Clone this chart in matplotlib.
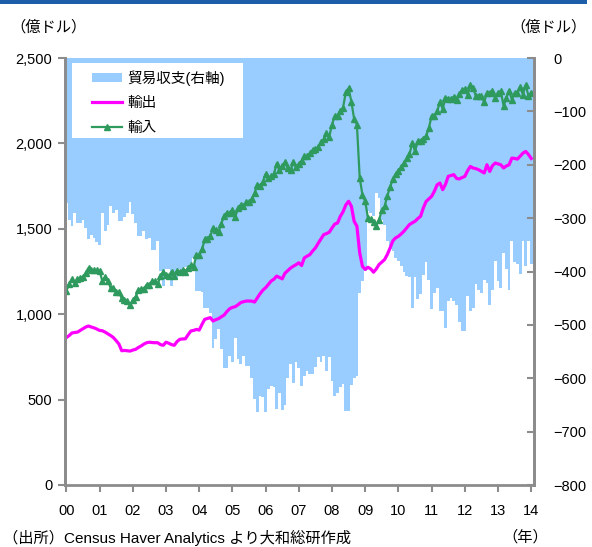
import matplotlib
matplotlib.use("Agg")
import matplotlib.pyplot as plt
from matplotlib.patches import Patch, Rectangle
from matplotlib.lines import Line2D

plt.rcParams['font.family'] = ['Liberation Sans', 'Noto Sans CJK JP', 'DejaVu Sans']

# monthly, Jan 2000 .. Jan 2014 (億ドル)
year_labels = ['00', '01', '02', '03', '04', '05', '06', '07',
               '08', '09', '10', '11', '12', '13', '14']

exports = [
    863, 875, 890, 893, 895, 905, 915, 925, 931, 925,
    920, 913, 905, 903, 895, 885, 875, 863, 845, 825,
    786, 788, 786, 784, 790, 794, 805, 814, 825, 833,
    836, 834, 833, 833, 822, 818, 836, 830, 822, 818,
    840, 853, 855, 856, 880, 902, 905, 911, 907, 940,
    970, 975, 980, 960, 968, 974, 985, 995, 1015, 1032,
    1040, 1044, 1055, 1068, 1073, 1077, 1077, 1077, 1071, 1095,
    1120, 1140, 1155, 1175, 1194, 1205, 1223, 1215, 1207, 1240,
    1255, 1270, 1281, 1290, 1301, 1285, 1330, 1340, 1349, 1370,
    1388, 1415, 1440, 1466, 1472, 1480, 1505, 1528, 1534, 1573,
    1600, 1640, 1661, 1632, 1544, 1515, 1360, 1280, 1262, 1275,
    1265, 1246, 1265, 1291, 1305, 1320, 1350, 1388, 1430, 1447,
    1456, 1470, 1486, 1505, 1525, 1535, 1544, 1560, 1573, 1622,
    1660, 1675, 1690, 1720, 1758, 1768, 1729, 1760, 1807, 1812,
    1817, 1795, 1792, 1800, 1807, 1840, 1865, 1856, 1852, 1846,
    1836, 1827, 1875, 1836, 1870, 1885, 1880, 1875, 1856, 1868,
    1875, 1914, 1912, 1908, 1925, 1943, 1953, 1935, 1912,
]

imports = [
    1135, 1178, 1205, 1183, 1204, 1214, 1218, 1243, 1271, 1256,
    1257, 1258, 1255, 1193, 1220, 1197, 1153, 1153, 1129, 1131,
    1092, 1085, 1076, 1053, 1083, 1103, 1139, 1148, 1150, 1173,
    1173, 1193, 1192, 1176, 1221, 1245, 1232, 1226, 1249, 1226,
    1255, 1249, 1257, 1248, 1272, 1286, 1279, 1348, 1344, 1379,
    1438, 1443, 1457, 1503, 1495, 1482, 1531, 1575, 1595, 1590,
    1610, 1568, 1619, 1641, 1631, 1654, 1654, 1677, 1710, 1759,
    1753, 1776, 1819, 1796, 1808, 1822, 1881, 1842, 1867, 1890,
    1855, 1843, 1889, 1860, 1881, 1899, 1925, 1926, 1941, 1962,
    1966, 1976, 2010, 2024, 2058, 2040, 2110, 2161, 2161, 2190,
    2210, 2301, 2322, 2244, 2143, 2110, 1800, 1698, 1661, 1562,
    1555, 1542, 1518, 1553, 1608, 1632, 1693, 1745, 1792, 1821,
    1836, 1860, 1886, 1913, 1936, 2003, 1955, 2012, 2016, 2028,
    2043, 2090, 2161, 2160, 2188, 2242, 2203, 2265, 2262, 2261,
    2272, 2257, 2287, 2311, 2318, 2285, 2339, 2324, 2276, 2280,
    2276, 2242, 2296, 2298, 2304, 2266, 2298, 2305, 2221, 2264,
    2309, 2257, 2295, 2294, 2330, 2286, 2342, 2278, 2298,
]

balance = [
    -272, -303, -315, -290, -309, -309, -303, -318, -340, -331,
    -337, -345, -350, -290, -325, -312, -278, -290, -284, -306,
    -306, -297, -290, -269, -293, -309, -334, -334, -325, -340,
    -337, -359, -359, -343, -399, -427, -396, -396, -427, -408,
    -415, -396, -402, -392, -392, -384, -374, -437, -437, -439,
    -468, -468, -477, -543, -527, -508, -546, -580, -580, -558,
    -570, -524, -564, -573, -558, -577, -577, -600, -639, -664,
    -633, -636, -664, -621, -614, -617, -658, -627, -660, -650,
    -600, -573, -608, -570, -580, -614, -595, -586, -592, -592,
    -578, -561, -570, -558, -586, -560, -605, -633, -627, -617,
    -610, -661, -661, -612, -599, -595, -440, -418, -399, -287,
    -290, -296, -253, -262, -303, -312, -343, -357, -362, -374,
    -380, -390, -400, -408, -411, -468, -411, -452, -443, -406,
    -383, -415, -471, -440, -430, -474, -474, -505, -455, -449,
    -455, -462, -495, -511, -511, -445, -474, -468, -424, -434,
    -440, -415, -421, -462, -434, -381, -418, -430, -365, -396,
    -434, -343, -383, -386, -405, -343, -389, -343, -386,
]

months = list(range(len(exports)))

C_BAR = '#99ccff'
C_EXP = '#ff00ff'
C_IMP = '#2f9a5e'
C_AX = '#8c8c8c'

fig = plt.figure(figsize=(5.92, 5.47), dpi=100)
ax2 = fig.add_axes([65 / 592, 1 - 485 / 547, 469 / 592, 427 / 547])
ax = ax2.twinx()
# lines above the bars
ax2.set_zorder(1)
ax.set_zorder(2)
ax.patch.set_visible(False)

# left scale for exports/imports, right scale for the balance
ax.yaxis.tick_left()
ax.yaxis.set_label_position('left')
ax2.yaxis.tick_right()

ax2.bar(months, balance, width=1.0, color=C_BAR, linewidth=0)
ax2.set_ylim(-800, 0)
ax2.set_yticks(range(-800, 1, 100))
ax2.set_yticklabels([str(v).replace('-', '\u2212') for v in range(-800, 1, 100)])

ax.plot(months, exports, color=C_EXP, lw=2.3)
ax.plot(months, imports, color=C_IMP, lw=1.6, marker='^', ms=4.5,
        mfc=C_IMP, mec=C_IMP)
ax.set_ylim(0, 2500)
ax.set_yticks(range(0, 2501, 500))
ax.set_yticklabels(['{:,}'.format(v) for v in range(0, 2501, 500)])

ax2.set_xlim(-0.5, 169.0)
ax2.set_xticks(range(0, 169, 12))
ax2.set_xticklabels(year_labels)

for a in (ax, ax2):
    a.spines['top'].set_visible(False)
    for s in ('left', 'right', 'bottom'):
        a.spines[s].set_color(C_AX)
        a.spines[s].set_linewidth(2)
ax.spines['bottom'].set_visible(False)

ax.tick_params(axis='y', direction='out', length=5, width=1.5, color=C_AX,
               labelsize=10.5, pad=4)
ax2.tick_params(axis='y', direction='in', length=5, width=1.5, color=C_AX,
                labelsize=10.5, pad=14)
ax2.tick_params(axis='x', direction='out', length=5, width=1.5, color=C_AX,
                labelsize=10.5, pad=9)

# white legend panel
ax.add_artist(Rectangle((72 / 592, 1 - 138 / 547), 171 / 592, 75 / 547,
                        transform=fig.transFigure, facecolor='white',
                        edgecolor='none', zorder=4.5))

handles = [
    Patch(facecolor=C_BAR, edgecolor='none'),
    Line2D([], [], color=C_EXP, lw=2.3),
    Line2D([], [], color=C_IMP, lw=1.6, marker='^', ms=4.5),
]
leg = ax.legend(handles, ['貿易収支(右軸)', '輸出', '輸入'],
                loc='upper left', bbox_to_anchor=(92 / 592, 1 - 70 / 547),
                bbox_transform=fig.transFigure, borderaxespad=0, borderpad=0,
                fontsize=10.5, handlelength=2.05, handleheight=0.5,
                handletextpad=0.35, labelspacing=0.72, frameon=False)
leg.set_zorder(5)

fig.text(10 / 592, 1 - 27 / 547, '（億ドル）', fontsize=11, va='center', ha='left')
fig.text(587 / 592, 1 - 27 / 547, '（億ドル）', fontsize=11, va='center', ha='right')
fig.text(548 / 592, 1 - 537 / 547, '（年）', fontsize=11, va='center', ha='right')
fig.text(3 / 592, 1 - 546 / 547, '（出所）Census Haver Analytics より大和総研作成',
         fontsize=11, va='bottom', ha='left')

fig.add_artist(Rectangle((0, 1 - 4 / 547), 587 / 592, 4 / 547,
                         transform=fig.transFigure, color='#1c5fa8', lw=0))

fig.savefig('out.png', dpi=100)
